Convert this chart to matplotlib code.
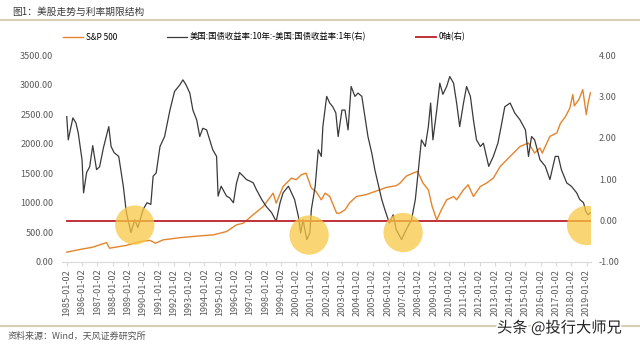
import matplotlib
matplotlib.use("Agg")
import matplotlib.pyplot as plt
from matplotlib.lines import Line2D
import matplotlib.patheffects as pe

plt.rcParams['font.family'] = ['Noto Sans CJK SC', 'DejaVu Sans']

# ---- data ----
spread_years = [1985.0, 1985.1, 1985.4, 1985.6, 1985.75, 1986.0, 1986.1, 1986.3, 1986.5, 1986.7,
                1986.95, 1987.15, 1987.4, 1987.75, 1987.9, 1988.1, 1988.4, 1988.7, 1988.9, 1989.2,
                1989.45, 1989.65, 1990.0, 1990.25, 1990.5, 1990.65, 1990.85, 1991.1, 1991.4, 1991.75,
                1992.05, 1992.4, 1992.6, 1992.8, 1993.05, 1993.25, 1993.5, 1993.7, 1993.9, 1994.15,
                1994.35, 1994.55, 1994.8, 1994.9, 1995.1, 1995.45, 1995.65, 1995.9, 1996.1, 1996.3,
                1996.55, 1996.75, 1997.0, 1997.2, 1997.4, 1997.75, 1998.05, 1998.4, 1998.7, 1998.95,
                1999.15, 1999.5, 1999.7, 1999.9, 2000.15, 2000.3, 2000.45, 2000.7, 2000.9, 2001.0,
                2001.25, 2001.45, 2001.65, 2001.75, 2002.0, 2002.2, 2002.4, 2002.6, 2002.75, 2003.0,
                2003.2, 2003.4, 2003.6, 2003.85, 2004.05, 2004.3, 2004.5, 2004.7, 2004.95, 2005.15,
                2005.4, 2005.6, 2005.8, 2006.1, 2006.35, 2006.55, 2006.9, 2007.2, 2007.55, 2007.8,
                2008.0, 2008.2, 2008.45, 2008.65, 2008.8, 2008.95, 2009.2, 2009.4, 2009.6, 2009.85,
                2010.05, 2010.3, 2010.5, 2010.7, 2010.95, 2011.15, 2011.4, 2011.6, 2011.8, 2012.05,
                2012.25, 2012.6, 2012.9, 2013.2, 2013.45, 2013.65, 2014.0, 2014.3, 2014.65, 2015.0,
                2015.2, 2015.4, 2015.6, 2015.95, 2016.3, 2016.6, 2016.95, 2017.15, 2017.35, 2017.7,
                2018.0, 2018.35, 2018.55, 2018.8, 2018.95, 2019.1, 2019.25]
spread_vals = [2.51, 1.95, 2.48, 2.36, 2.12, 1.47, 0.67, 1.16, 1.30, 1.81,
               1.23, 1.30, 1.76, 2.27, 1.79, 1.64, 1.55, 0.83, 0.19, -0.29,
               0.02, -0.17, 0.27, 0.43, 0.39, 1.07, 1.15, 1.79, 2.03, 2.67,
               3.12, 3.28, 3.40, 3.28, 3.08, 2.67, 2.43, 2.03, 2.23, 2.19,
               1.95, 1.71, 1.55, 0.59, 0.83, 0.59, 0.55, 0.43, 0.90, 1.16,
               1.07, 0.99, 0.95, 0.91, 0.75, 0.51, 0.34, 0.19, -0.02, 0.43,
               0.67, 0.83, 0.67, 0.51, 0.10, -0.30, 0.02, -0.46, -0.30, 0.27,
               0.83, 1.71, 1.55, 2.27, 3.00, 2.84, 2.75, 2.60, 2.03, 2.67,
               2.67, 2.19, 3.24, 3.00, 3.08, 3.00, 2.51, 2.03, 1.63, 1.23,
               0.83, 0.51, 0.27, -0.06, 0.14, -0.22, -0.46, -0.22, 0.02, 0.51,
               1.23, 1.95, 1.79, 2.27, 2.84, 1.95, 2.67, 3.32, 3.05, 3.24,
               3.48, 3.32, 2.84, 2.27, 2.84, 3.24, 3.00, 2.43, 1.95, 1.79,
               1.87, 1.31, 1.55, 1.87, 2.35, 2.75, 2.84, 2.60, 2.43, 2.19,
               1.55, 2.03, 1.95, 1.47, 1.31, 0.99, 1.55, 1.55, 1.23, 0.91,
               0.83, 0.67, 0.51, 0.43, 0.22, 0.14, 0.19]

sp_years = [1985.0, 1985.85, 1986.7, 1987.6, 1987.8, 1988.9, 1989.8, 1990.45, 1990.8, 1991.3,
            1992.4, 1993.7, 1994.6, 1995.45, 1996.1, 1996.55, 1997.2, 1997.85, 1998.5, 1998.7,
            1999.15, 1999.7, 2000.0, 2000.35, 2000.65, 2001.0, 2001.3, 2001.65, 2001.9, 2002.2,
            2002.65, 2002.85, 2003.2, 2003.5, 2003.95, 2004.6, 2005.25, 2005.9, 2006.55, 2006.8,
            2007.2, 2007.65, 2007.95, 2008.3, 2008.65, 2008.9, 2009.2, 2009.5, 2009.85, 2010.3,
            2010.5, 2010.95, 2011.25, 2011.6, 2012.05, 2012.45, 2012.9, 2013.35, 2014.0, 2014.65,
            2015.2, 2015.6, 2015.95, 2016.1, 2016.6, 2017.05, 2017.3, 2017.6, 2017.9, 2018.1,
            2018.2, 2018.5, 2018.75, 2018.98, 2019.1, 2019.25]
sp_vals = [165, 210, 250, 327, 232, 280, 344, 365, 316, 373,
           410, 440, 458, 514, 627, 656, 800, 937, 1164, 995,
           1276, 1418, 1390, 1475, 1503, 1249, 1192, 1051, 1164, 1107,
           825, 825, 881, 1000, 1107, 1140, 1200, 1260, 1290, 1333,
           1450, 1503, 1531, 1333, 1220, 937, 712, 881, 1051, 1107,
           1051, 1220, 1305, 1107, 1276, 1333, 1418, 1615, 1785, 1954,
           2012, 1842, 1927, 1842, 2124, 2181, 2350, 2450, 2600, 2830,
           2640, 2750, 2915, 2492, 2690, 2860]

zero_years = [1985.0, 2019.25]
zero_vals = [0.0, 0.0]

circle_years = [1989.45, 2000.85, 2007.0, 2019.0]
circle_vals = [-0.11, -0.35, -0.29, -0.12]

tick_years = list(range(1985, 2020))
tick_labels = [f"{y}-01-02" for y in tick_years]
left_ticks = [0, 500, 1000, 1500, 2000, 2500, 3000, 3500]
right_ticks = [-1, 0, 1, 2, 3, 4]

legend_labels = ["S&P 500", "美国:国债收益率:10年:-美国:国债收益率:1年(右)", "0轴(右)"]
title_text = "图1：美股走势与利率期限结构"
source_text = "资料来源：Wind，天风证券研究所"
watermark_text = "头条 @投行大师兄"

# ---- figure ----
fig = plt.figure(figsize=(6.4, 3.46), dpi=100)
ax = fig.add_axes([0.0964, 0.243, 0.8266, 0.598])
ax2 = ax.twinx()

c_sp = '#E5842B'
c_spread = '#3a3a3a'
c_zero = '#C0303A'

l1, = ax.plot(sp_years, sp_vals, color=c_sp, lw=1.0, zorder=3)
l2, = ax2.plot(spread_years, spread_vals, color=c_spread, lw=0.9, zorder=3)
l3, = ax2.plot(zero_years, zero_vals, color=c_zero, lw=1.4, zorder=4)
ax2.scatter(circle_years, circle_vals, s=800, color='#F7C744', alpha=0.75,
            edgecolors='none', zorder=5)

ax.set_xlim(1984.67, 2019.27)
ax.set_ylim(0, 3500)
ax2.set_ylim(-1, 4)

ax.set_yticks(left_ticks)
ax.set_yticklabels([f"{v:.2f}" for v in left_ticks])
ax2.set_yticks(right_ticks)
ax2.set_yticklabels([f"{v:.2f}" for v in right_ticks])
ax.set_xticks(tick_years)
ax.set_xticklabels(tick_labels, rotation=90)

for a in (ax, ax2):
    for s in ('top', 'left', 'right'):
        a.spines[s].set_visible(False)
    a.spines['bottom'].set_color('#d9d9d9')
    a.tick_params(axis='y', length=0, labelsize=6.5, labelcolor='#595959', pad=6)
ax.tick_params(axis='x', length=3, color='#d9d9d9', labelsize=6.5,
               labelcolor='#595959', pad=2)
ax2.spines['bottom'].set_visible(False)

fig.legend([l1, l2, l3], legend_labels, loc='center',
           bbox_to_anchor=(0.4125, 1 - 37 / 346), ncol=3, frameon=False,
           fontsize=6, columnspacing=6.0, handlelength=2.4, handletextpad=0.3)

fig.text(12 / 640, 1 - 12 / 346, title_text, fontsize=7, color='#3a3a3a',
         va='center', ha='left')
fig.add_artist(Line2D([0, 1], [1 - 20 / 346] * 2, transform=fig.transFigure,
                      color='#d8ceb4', lw=1.5))
fig.add_artist(Line2D([0, 1], [1 - 326 / 346] * 2, transform=fig.transFigure,
                      color='#d8ceb4', lw=1.5))
fig.text(8 / 640, 1 - 336 / 346, source_text, fontsize=6.5, color='#555555',
         va='center', ha='left')
fig.text(497 / 640, 1 - 328 / 346, watermark_text, fontsize=11, color='#222222',
         va='center', ha='left',
         path_effects=[pe.withStroke(linewidth=2.5, foreground='white')])

fig.savefig('out.png', dpi=100)
